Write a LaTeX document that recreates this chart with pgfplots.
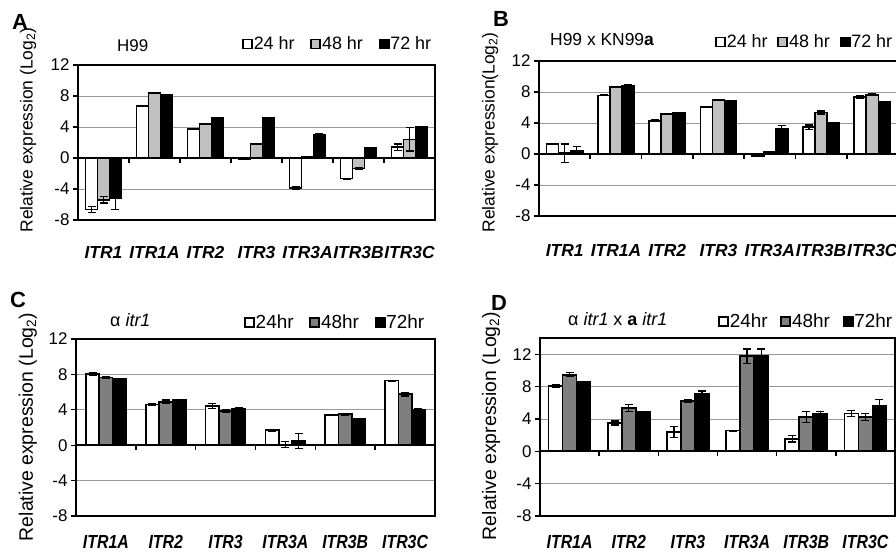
\documentclass[border=0pt]{standalone}
\usepackage{fontspec}
\setmainfont{Liberation Sans}
\newfontfamily\condsans[FakeStretch=0.84]{Liberation Sans}
\usepackage{pgfplots}
\usepackage{pgfplotstable}
\pgfplotsset{compat=1.18}
\definecolor{lgray}{HTML}{C0C0C0}
\definecolor{mgray}{HTML}{7F7F7F}
\newcommand\fs[1]{\fontsize{#1}{#1}\selectfont}

% x  24hr(err)  48hr(err)  72hr(err)
\pgfplotstableread{
x w we g ge b be
0 -6.65 0.35 -5.4 0.4 -5.2 1.4
1 6.75 0.05 8.35 0.05 8.1 0.05
2 3.75 0.1 4.35 0.05 5.2 0.05
3 -0.12 0.05 1.8 0.1 5.15 0.1
4 -3.9 0.15 0.1 0.05 2.95 0.15
5 -2.65 0.05 -1.35 0.1 1.35 0.05
6 1.4 0.4 2.4 1.5 4.05 0.05
}\dataA
\pgfplotstableread{
x w we g ge b be
0 1.3 0.05 0.1 1.2 0.45 0.5
1 7.55 0.05 8.65 0.05 8.85 0.05
2 4.3 0.1 5.15 0.05 5.35 0.05
3 6.1 0.05 6.95 0.05 6.85 0.05
4 -0.3 0.05 0.3 0.05 3.3 0.35
5 3.45 0.3 5.35 0.2 4.0 0.05
6 7.35 0.15 7.65 0.1 6.75 0.05
}\dataB
\pgfplotstableread{
x w we g ge b be
0 8.05 0.15 7.65 0.12 7.45 0.05
1 4.6 0.1 4.9 0.2 5.1 0.05
2 4.45 0.3 3.85 0.15 4.1 0.15
3 1.7 0.1 0.05 0.35 0.5 0.85
4 3.4 0.05 3.5 0.1 2.95 0.05
5 7.3 0.05 5.75 0.2 4.0 0.1
}\dataC
\pgfplotstableread{
x w we g ge b be
0 8.1 0.2 9.45 0.25 8.55 0.05
1 3.5 0.25 5.35 0.4 4.9 0.05
2 2.4 0.7 6.2 0.15 7.1 0.35
3 2.55 0.05 11.75 0.9 11.8 0.85
4 1.55 0.4 4.25 0.65 4.65 0.25
5 4.65 0.35 4.25 0.4 5.6 0.75
}\dataD

\pgfplotsset{
  sqleg/.style={legend image code/.code={\draw[##1, line width=1.8bp] (0bp,-4.5bp) rectangle (9bp,4.5bp);}},
  common/.style={
    scale only axis,
    axis line style={line width=2.2bp, black},
    ymajorgrids, major grid style={line width=0.8bp, color=black!40},
    tick align=outside, major tick length=5bp, tick pos=left,
    major x tick style={draw=none},
    ytick style={line width=1.2bp, black},
    /pgf/number format/assume math mode=true,
    yticklabel style={font=\fs{17}},
    ymin=-8, ytick={-8,-4,...,12},
    legend columns=3,
    legend style={draw=none, fill=none, inner sep=0pt, outer sep=0pt,
      nodes={inner sep=0.8bp}},
    clip=true,
  },
  barbase/.style={ybar, bar shift=0pt, draw=black, line width=1.7bp, sqleg,
    /pgfplots/error bars/y dir=both, /pgfplots/error bars/y explicit,
    /pgfplots/error bars/error bar style={line width=1.2bp, black},
    /pgfplots/error bars/error mark options={rotate=90, mark size=4bp, line width=1.2bp, black}},
}

\begin{document}
\begin{tikzpicture}[x=1bp,y=1bp]
\useasboundingbox (0,0) rectangle (896,553);
\clip (0,0) rectangle (896,553);

% ---------------- Panel A ----------------
\begin{axis}[common,
  at={(78bp,333bp)}, anchor=south west, width=357bp, height=155bp,
  xmin=-0.5, xmax=6.5, ymax=12, xtick={0,...,6},
  xticklabels={ITR1,ITR1A,ITR2,ITR3,ITR3A,ITR3B,ITR3C},
  xticklabel style={font=\fs{17.5}\bfseries\itshape, anchor=base, yshift=-34bp},
  ylabel={Relative expression (Log\textsubscript{2})},
  ylabel style={font=\fs{17.5}, at={(axis description cs:-0.14,0.58)}, anchor=center},
  legend style={at={(1,1)}, anchor=south east, xshift=-3bp, yshift=13bp, font=\fs{18},
    /tikz/every even column/.append style={column sep=15bp}},
]
\addplot[barbase, fill=white, bar width=0.235] table[x expr=\thisrow{x}-0.235, y=w, y error=we]{\dataA};
\addplot[barbase, fill=lgray, bar width=0.235] table[x=x, y=g, y error=ge]{\dataA};
\addplot[barbase, fill=black, bar width=0.235] table[x expr=\thisrow{x}+0.235, y=b, y error=be]{\dataA};
\legend{24 hr,48 hr,72 hr}
\draw[line width=2bp] (axis cs:-0.5,0) -- (axis cs:6.5,0);
\draw[line width=1.6bp] (axis cs:0.5,0) -- ++(0bp,-5bp);
\draw[line width=1.6bp] (axis cs:1.5,0) -- ++(0bp,-5bp);
\draw[line width=1.6bp] (axis cs:2.5,0) -- ++(0bp,-5bp);
\draw[line width=1.6bp] (axis cs:3.5,0) -- ++(0bp,-5bp);
\draw[line width=1.6bp] (axis cs:4.5,0) -- ++(0bp,-5bp);
\draw[line width=1.6bp] (axis cs:5.5,0) -- ++(0bp,-5bp);
\end{axis}
\node[anchor=base west, font=\fs{22}\bfseries, inner sep=0] at (12bp,523bp) {A};
\node[anchor=base west, font=\fs{17}, inner sep=0] at (117bp,501bp) {H99};

% ---------------- Panel B ----------------
\begin{axis}[common,
  at={(539bp,337bp)}, anchor=south west, width=359bp, height=155bp,
  xmin=-0.5, xmax=6.5, ymax=12, xtick={0,...,6},
  xticklabels={ITR1,ITR1A,ITR2,ITR3,ITR3A,ITR3B,ITR3C},
  xticklabel style={font=\fs{17.5}\bfseries\itshape, anchor=base, yshift=-36bp},
  ylabel={Relative expression(Log\textsubscript{2})},
  ylabel style={font=\fs{17.5}, at={(axis description cs:-0.136,0.54)}, anchor=center},
  legend style={at={(1,1)}, anchor=south east, xshift=-5bp, yshift=11bp, font=\fs{18},
    /tikz/every even column/.append style={column sep=9bp}},
]
\addplot[barbase, fill=white, bar width=0.235] table[x expr=\thisrow{x}-0.235, y=w, y error=we]{\dataB};
\addplot[barbase, fill=lgray, bar width=0.235] table[x=x, y=g, y error=ge]{\dataB};
\addplot[barbase, fill=black, bar width=0.235] table[x expr=\thisrow{x}+0.235, y=b, y error=be]{\dataB};
\legend{24 hr,48 hr,72 hr}
\draw[line width=2bp] (axis cs:-0.5,0) -- (axis cs:6.5,0);
\draw[line width=1.6bp] (axis cs:0.5,0) -- ++(0bp,-5bp);
\draw[line width=1.6bp] (axis cs:1.5,0) -- ++(0bp,-5bp);
\draw[line width=1.6bp] (axis cs:2.5,0) -- ++(0bp,-5bp);
\draw[line width=1.6bp] (axis cs:3.5,0) -- ++(0bp,-5bp);
\draw[line width=1.6bp] (axis cs:4.5,0) -- ++(0bp,-5bp);
\draw[line width=1.6bp] (axis cs:5.5,0) -- ++(0bp,-5bp);
\end{axis}
\node[anchor=base west, font=\fs{22}\bfseries, inner sep=0] at (493bp,526bp) {B};
\node[anchor=base west, font=\fs{17.5}, inner sep=0] at (550bp,507bp) {H99 x KN99\textbf{a}};

% ---------------- Panel C ----------------
\begin{axis}[common,
  at={(76bp,37bp)}, anchor=south west, width=359bp, height=177bp,
  xmin=-0.5, xmax=5.5, ymax=12, xtick={0,...,5},
  xticklabels={ITR1A,ITR2,ITR3,ITR3A,ITR3B,ITR3C},
  xticklabel style={font=\condsans\fs{19}\bfseries\itshape, anchor=base, yshift=-28bp},
  ylabel={Relative expression (Log\textsubscript{2})},
  ylabel style={font=\fs{19.5}, at={(axis description cs:-0.134,0.503)}, anchor=center},
  legend style={at={(1,1)}, anchor=south east, xshift=-10bp, yshift=8bp, font=\fs{19},
    /tikz/every even column/.append style={column sep=15bp}},
]
\addplot[barbase, fill=white, bar width=0.223] table[x expr=\thisrow{x}-0.223, y=w, y error=we]{\dataC};
\addplot[barbase, fill=mgray, bar width=0.223] table[x=x, y=g, y error=ge]{\dataC};
\addplot[barbase, fill=black, bar width=0.223] table[x expr=\thisrow{x}+0.223, y=b, y error=be]{\dataC};
\legend{24hr,48hr,72hr}
\draw[line width=2bp] (axis cs:-0.5,0) -- (axis cs:5.5,0);
\draw[line width=1.6bp] (axis cs:0.5,0) -- ++(0bp,-5bp);
\draw[line width=1.6bp] (axis cs:1.5,0) -- ++(0bp,-5bp);
\draw[line width=1.6bp] (axis cs:2.5,0) -- ++(0bp,-5bp);
\draw[line width=1.6bp] (axis cs:3.5,0) -- ++(0bp,-5bp);
\draw[line width=1.6bp] (axis cs:4.5,0) -- ++(0bp,-5bp);
\end{axis}
\node[anchor=base west, font=\fs{22}\bfseries, inner sep=0] at (10bp,245bp) {C};
\node[anchor=base west, font=\fs{18}, inner sep=0] at (110bp,226bp) {α \textit{itr1}};

% ---------------- Panel D ----------------
\begin{axis}[common,
  at={(540bp,37bp)}, anchor=south west, width=355bp, height=178bp,
  xmin=-0.5, xmax=5.5, ymax=14, xtick={0,...,5},
  xticklabels={ITR1A,ITR2,ITR3,ITR3A,ITR3B,ITR3C},
  xticklabel style={font=\condsans\fs{19}\bfseries\itshape, anchor=base, yshift=-28bp},
  ylabel={Relative expression (Log\textsubscript{2})},
  ylabel style={font=\fs{19.5}, at={(axis description cs:-0.138,0.506)}, anchor=center},
  legend style={at={(1,1)}, anchor=south east, xshift=-2bp, yshift=8bp, font=\fs{19},
    /tikz/every even column/.append style={column sep=12bp}},
]
\addplot[barbase, fill=white, bar width=0.237] table[x expr=\thisrow{x}-0.237, y=w, y error=we]{\dataD};
\addplot[barbase, fill=mgray, bar width=0.237] table[x=x, y=g, y error=ge]{\dataD};
\addplot[barbase, fill=black, bar width=0.237] table[x expr=\thisrow{x}+0.237, y=b, y error=be]{\dataD};
\legend{24hr,48hr,72hr}
\draw[line width=2bp] (axis cs:-0.5,0) -- (axis cs:5.5,0);
\draw[line width=1.6bp] (axis cs:0.5,0) -- ++(0bp,-5bp);
\draw[line width=1.6bp] (axis cs:1.5,0) -- ++(0bp,-5bp);
\draw[line width=1.6bp] (axis cs:2.5,0) -- ++(0bp,-5bp);
\draw[line width=1.6bp] (axis cs:3.5,0) -- ++(0bp,-5bp);
\draw[line width=1.6bp] (axis cs:4.5,0) -- ++(0bp,-5bp);
\end{axis}
\node[anchor=base west, font=\fs{22}\bfseries, inner sep=0] at (491bp,242bp) {D};
\node[anchor=base west, font=\fs{18}, inner sep=0] at (568bp,227bp) {α \textit{itr1} x \textbf{a} \textit{itr1}};
\end{tikzpicture}
\end{document}
